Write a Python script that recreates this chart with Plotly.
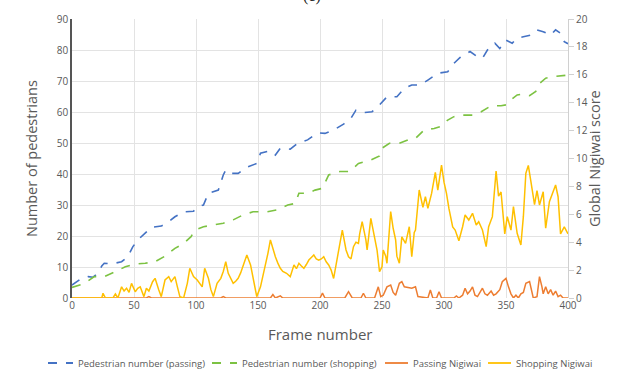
import plotly.graph_objects as go

# ---- data ----
passing_frames = [0,8,13,17,21,24,26,32,40,45,49,53,59,64,72,78,83,90,98,102,106,110,118,122,124,128,134,141,149,152,160,164,168,176,182,190,198,204,211,219,225,229,235,242,248,254,262,268,274,281,287,295,303,308,313,321,327,331,335,341,345,350,355,359,364,370,375,380,386,390,394,397,400]
passing_count = [4.2,6.4,6.9,6.7,8,10.3,11.2,11,11.7,13.3,16.5,18.7,20.9,22.8,23.2,24.6,26.2,27.8,28,29.5,30,33.8,34.8,39.7,41.3,40.2,40.2,42.2,43.4,46.7,47.5,46.1,48.3,48,49.9,51,53.3,53.1,54.2,56.1,58,60.6,59.8,60.1,62.3,64.9,64.9,67.6,68.7,68.7,70.3,72.5,73,75.7,77.6,79.5,77.8,77.3,80,82.2,80.5,83.2,82.2,83.8,84.3,84.8,86.5,85.9,84.8,86.5,85.4,82.7,82]

shopping_frames = [0,10,18,26,35,43,51,59,67,75,83,90,96,99,106,114,122,130,138,146,157,165,174,180,183,190,196,202,207,216,224,231,241,248,250,256,264,271,277,284,292,297,303,308,313,323,330,338,346,350,354,359,364,369,374,377,382,388,394,400]
shopping_count = [3.4,4.7,6.9,6.9,8.5,10.1,11,11.2,11.7,13.5,16,17.6,19.8,21.9,23,23.5,24.1,25.2,26.8,27.8,27.8,28.4,30,30.5,33.8,33.8,34.8,35.4,39.7,40.8,40.8,43.4,44.5,45.8,48.3,49.9,49.9,51,51.5,54.2,54.7,55.3,57.4,58.5,59,59,60.1,62,62,62.3,63.9,65.5,65.8,65.3,66.6,69.2,70.9,71.4,71.6,71.9]

shop_nig_frames = [0,5,10,15,20,24,25,27,33,35,37,40,42,44,46,48,51,53,55,58,60,62,65,67,70,72,75,78,80,83,85,87,90,93,95,98,101,103,105,107,110,112,114,117,120,122,124,126,128,130,132,134,136,138,141,144,147,149,152,154,156,158,160,162,164,166,168,170,173,176,179,181,183,185,187,189,191,193,195,197,199,201,203,205,207,209,211,214,216,218,221,223,225,227,229,231,232,234,237,238,241,243,246,248,250,251,253,254,257,259,261,262,264,266,269,272,274,276,277,280,283,285,287,290,293,295,298,300,302,304,307,309,312,315,317,320,323,326,328,331,334,336,339,342,344,346,349,351,354,356,359,362,364,366,368,370,373,375,377,380,382,385,388,390,392,394,397,400]
shop_nig_score = [0,0,0,0,0,0,0.34,0,0,0.29,0,0.8,0.5,0.7,0.4,1.05,0.45,0.7,0.8,0.1,0.7,0.5,1.17,1.41,0.57,0.1,1.29,1.53,1.17,1.53,0.8,0.1,0,1.05,2.13,1.53,1.29,1.0,0.8,2.13,1.41,0.6,0.1,1.05,1.41,1.9,2.6,1.77,1.4,1.05,1.2,1.41,1.8,2.37,3.08,2.37,1.05,0.1,0.8,1.6,2.24,3.2,4.16,3.5,2.96,2.5,2.13,1.9,1.77,1.53,2.37,2.1,2.49,2.3,2.13,2.4,2.72,2.9,3.08,2.8,2.72,2.8,2.96,2.6,2.37,2.0,1.4,2.9,3.8,4.87,3.44,2.96,2.8,3.68,4.0,3.92,4.6,5.47,4.16,3.44,5.71,4.9,3.44,1.89,2.24,3.44,3.0,2.49,6.19,5.0,4.16,3.0,2.49,4.39,3.92,5.11,2.96,4.7,4.87,7.74,6.5,7.26,6.43,7.5,9.0,7.74,9.53,8.3,7.5,6.4,5.1,4.87,4.1,5.11,5.95,5.59,6.07,5.23,5.47,4.87,3.68,5.11,5.83,9.1,7.3,7.6,4.6,5.83,4.87,6.55,4.64,3.8,5.83,8.94,9.5,8.4,6.7,7.7,6.67,7.62,5.0,6.9,7.62,8.1,7.26,4.6,5.1,4.6]

pass_nig_frames = [0,60,62,64,120,122,124,160,162,164,168,170,200,202,204,220,223,226,233,235,237,244,247,249,251,254,257,259,261,264,266,268,271,274,277,279,287,289,291,294,296,298,308,310,312,315,317,319,321,323,325,327,329,331,333,335,338,340,342,345,347,350,352,354,356,358,360,362,364,366,369,371,372,375,377,379,380,382,384,386,388,390,392,394,396,400]
pass_nig_score = [0,0,0.1,0,0,0.1,0,0,0.25,0,0.15,0,0,0.35,0,0,0.45,0,0,0.34,0,0,0.8,0.1,0.2,0.8,0.93,0.4,0.2,1.05,1.17,0.8,0.75,0.7,0.8,0.1,0,0.57,0,0,0.45,0,0,0.15,0,0.2,0.7,0.3,0.5,0.8,0.2,0.1,0.4,0.7,0.3,0.2,0.5,0.2,0.3,0.6,1.17,1.41,0.8,0.3,0,0.2,0,0.3,0.4,1.05,1.17,0.3,0,0.1,1.53,0.8,0.3,0.8,0.3,0.6,0.2,0.5,0.1,0.2,0,0]

x_ticks = [0, 50, 100, 150, 200, 250, 300, 350, 400]
left_ticks = [0, 10, 20, 30, 40, 50, 60, 70, 80, 90]
right_ticks = [0, 2, 4, 6, 8, 10, 12, 14, 16, 18, 20]

series_names = ["Pedestrian number (passing)", "Pedestrian number (shopping)",
                "Passing Nigiwai", "Shopping Nigiwai"]
series_colors = ["#4472C4", "#7CC242", "#ED7D31", "#FFC000"]
series_dash = ["dash", "dash", "solid", "solid"]

FONT = "Open Sans"
GRAY = "#595959"

L, R, T, B = 72, 62, 19, 81
W, H = 630, 379
PW, PH = W - L - R, H - T - B

def px_x(px):
    return (px - L) / PW

def px_y(py):
    return (H - B - py) / PH

fig = go.Figure()
fig.add_trace(go.Scatter(x=passing_frames, y=passing_count, mode="lines",
                         name=series_names[0],
                         line=dict(color=series_colors[0], width=1.6, dash=series_dash[0])))
fig.add_trace(go.Scatter(x=shopping_frames, y=shopping_count, mode="lines",
                         name=series_names[1],
                         line=dict(color=series_colors[1], width=1.6, dash=series_dash[1])))
fig.add_trace(go.Scatter(x=pass_nig_frames, y=pass_nig_score, mode="lines",
                         name=series_names[2], yaxis="y2",
                         line=dict(color=series_colors[2], width=1.5)))
fig.add_trace(go.Scatter(x=shop_nig_frames, y=shop_nig_score, mode="lines",
                         name=series_names[3], yaxis="y2",
                         line=dict(color=series_colors[3], width=1.5)))

# manual legend (one row, like the reference)
leg_y = px_y(363)
leg_line_px = [(48, 73), (212, 237), (385, 408), (488, 511)]
shapes = []
annotations = []
for (x0, x1), name, col, dsh in zip(leg_line_px, series_names, series_colors, series_dash):
    shapes.append(dict(type="line", xref="paper", yref="paper",
                       x0=px_x(x0), x1=px_x(x1), y0=leg_y, y1=leg_y,
                       line=dict(color=col, width=1.8, dash="dash" if dsh == "dash" else "solid")))
    annotations.append(dict(text=name, xref="paper", yref="paper", x=px_x(x1 + 3), y=leg_y,
                            xanchor="left", yanchor="middle", showarrow=False,
                            font=dict(size=9.5, color=GRAY, family=FONT)))

annotations += [
    dict(text="Number of pedestrians", xref="paper", yref="paper", x=px_x(20), y=0.5,
         textangle=-90, showarrow=False, font=dict(size=14.5, color=GRAY, family=FONT)),
    dict(text="Global Nigiwai score", xref="paper", yref="paper", x=px_x(606), y=0.5,
         textangle=-90, showarrow=False, font=dict(size=14.5, color=GRAY, family=FONT)),
    dict(text="Frame number", xref="paper", yref="paper", x=0.5, y=px_y(334),
         yanchor="middle", showarrow=False, font=dict(size=15, color=GRAY, family=FONT)),
    dict(text="(c)", xref="paper", yref="paper", x=px_x(312), y=px_y(-4), yanchor="middle",
         showarrow=False, font=dict(size=16, color="#222222", family="Liberation Serif")),
]

fig.update_layout(
    width=W, height=H,
    margin=dict(l=L, r=R, t=T, b=B),
    paper_bgcolor="white", plot_bgcolor="white",
    font=dict(family=FONT, color=GRAY, size=10),
    showlegend=False,
    xaxis=dict(range=[0, 400], tickvals=x_ticks, showgrid=True, gridcolor="#e3e3e3",
               zeroline=False, showline=False, ticks="", tickfont=dict(size=10, color=GRAY)),
    yaxis=dict(range=[0, 90], tickvals=left_ticks, showgrid=True, gridcolor="#e3e3e3",
               zeroline=False, showline=True, linecolor="#555555", linewidth=1.5,
               ticks="", tickfont=dict(size=10, color=GRAY)),
    yaxis2=dict(range=[0, 20], tickvals=right_ticks, overlaying="y", side="right",
                showgrid=False, zeroline=False, showline=True, linecolor="#d0d0d0",
                ticks="outside", ticklen=5, tickcolor="#d0d0d0",
                tickfont=dict(size=10, color=GRAY)),
    shapes=shapes,
    annotations=annotations,
)

fig.write_html("out.html")
